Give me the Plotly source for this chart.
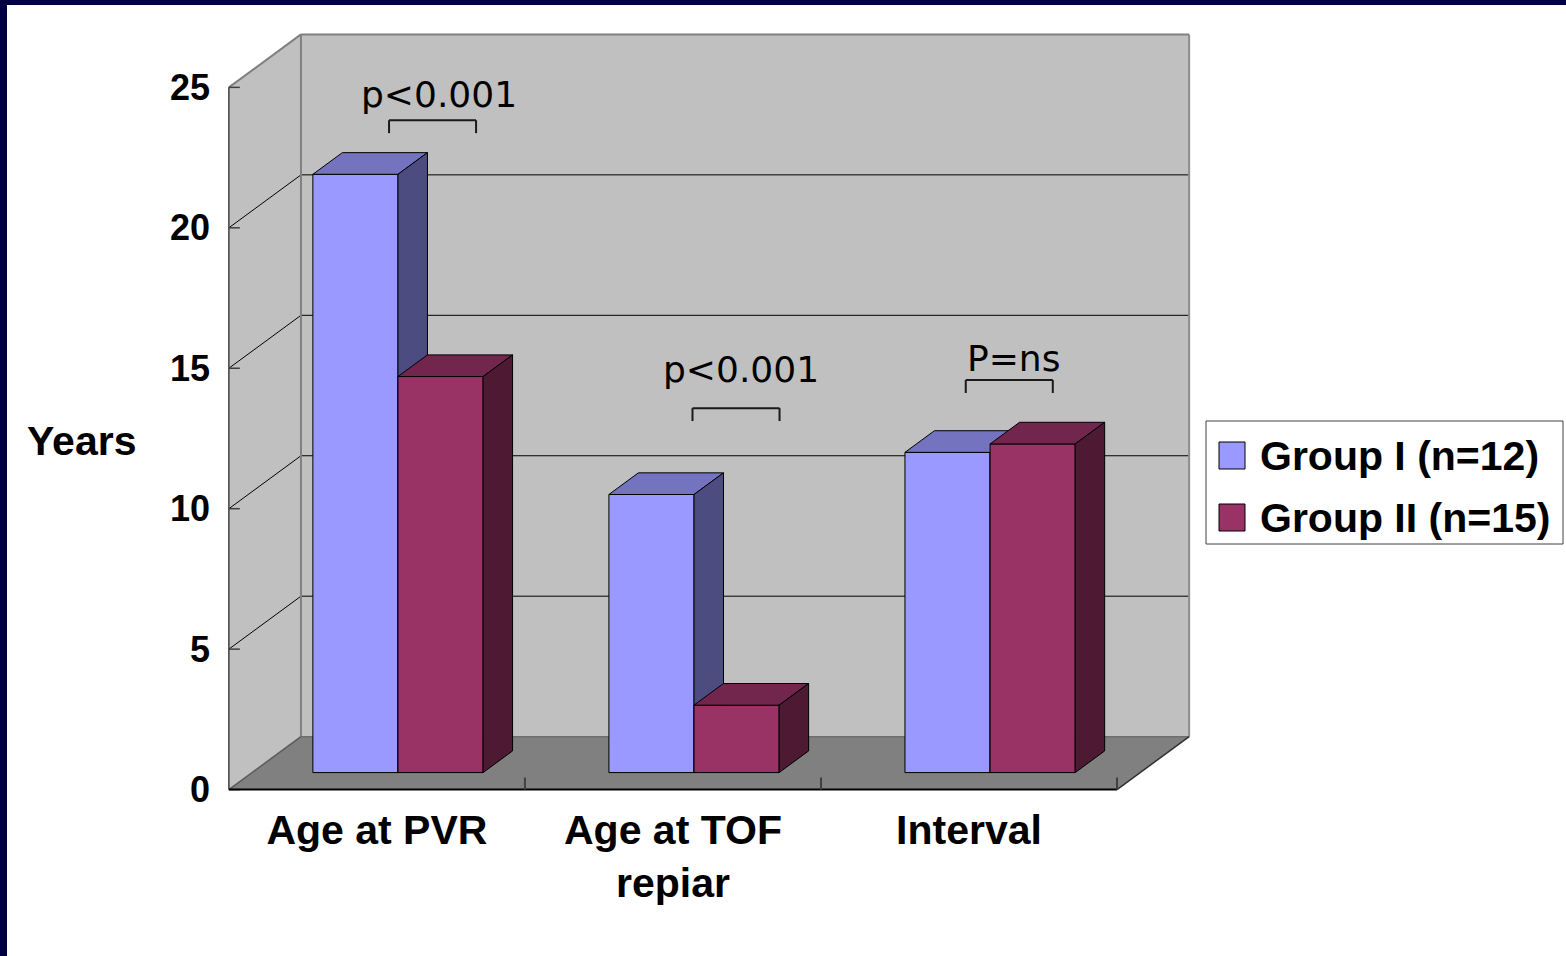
import plotly.graph_objects as go

# ---- data ----
categories = ["Age at PVR", "Age at TOF<br>repiar", "Interval"]
group_names = ["Group I (n=12)", "Group II (n=15)"]
group1_years = [21.3, 9.9, 11.4]
group2_years = [14.1, 2.4, 11.7]
y_ticks = [0, 5, 10, 15, 20, 25]
p_labels = ["p<0.001", "p<0.001", "P=ns"]

# ---- 3D box geometry (data units) ----
DX = 0.2435      # depth offset along category axis
DY = 1.885       # depth offset along value axis
D_FRONT = 0.321  # depth fraction of bar front faces
D_BACK = 0.73    # depth fraction of bar back faces
BAR_W = 0.2875   # bar width in category units
BAR_SHIFT = -0.007
Y_TOP = 25
PADX, PADY = 0.03, 0.3

W, H = 1566, 956
M_L, M_R, M_T, M_B = 220, 368, 26, 158
PLOT_W = W - M_L - M_R
PLOT_H = H - M_T - M_B


def px(xp):
    return (xp - M_L) / PLOT_W


def py(yp):
    return (H - M_B - yp) / PLOT_H


def proj(x, v, d):
    return x + d * DX, v + d * DY


group_colors = [
    {"front": "#9999FF", "top": "#7373BF", "side": "#4C4C80"},
    {"front": "#993366", "top": "#73264D", "side": "#4D1933"},
]

fig = go.Figure()


def add_face(pts, color):
    xs = [p[0] for p in pts] + [pts[0][0]]
    ys = [p[1] for p in pts] + [pts[0][1]]
    fig.add_trace(go.Scatter(
        x=xs, y=ys, mode="lines", fill="toself", fillcolor=color,
        line=dict(color="#000000", width=1), hoverinfo="skip", showlegend=False,
    ))


series = [group1_years, group2_years]
for i in range(len(categories)):
    for g, vals in enumerate(series):
        v = vals[i]
        x0 = i + BAR_SHIFT - BAR_W + g * BAR_W
        x1 = x0 + BAR_W
        c = group_colors[g]
        add_face([proj(x0, 0, D_FRONT), proj(x1, 0, D_FRONT),
                  proj(x1, v, D_FRONT), proj(x0, v, D_FRONT)], c["front"])
        add_face([proj(x0, v, D_FRONT), proj(x1, v, D_FRONT),
                  proj(x1, v, D_BACK), proj(x0, v, D_BACK)], c["top"])
        add_face([proj(x1, 0, D_FRONT), proj(x1, 0, D_BACK),
                  proj(x1, v, D_BACK), proj(x1, v, D_FRONT)], c["side"])

x_lo, x_hi = -0.5, len(categories) - 0.5
shapes = []


def poly(pts):
    return "M " + " L ".join(f"{x},{y}" for x, y in pts) + " Z"


def seg(a, b, color, width, layer="below"):
    shapes.append(dict(type="line", xref="x", yref="y", x0=a[0], y0=a[1],
                       x1=b[0], y1=b[1], line=dict(color=color, width=width),
                       layer=layer))


# walls and floor
shapes.append(dict(type="path", xref="x", yref="y", layer="below",
                   path=poly([proj(x_lo, 0, 0), proj(x_lo, 0, 1),
                              proj(x_lo, Y_TOP, 1), proj(x_lo, Y_TOP, 0)]),
                   fillcolor="#C0C0C0", line=dict(width=0)))
shapes.append(dict(type="path", xref="x", yref="y", layer="below",
                   path=poly([proj(x_lo, 0, 1), proj(x_hi, 0, 1),
                              proj(x_hi, Y_TOP, 1), proj(x_lo, Y_TOP, 1)]),
                   fillcolor="#C0C0C0", line=dict(width=0)))
shapes.append(dict(type="path", xref="x", yref="y", layer="below",
                   path=poly([proj(x_lo, 0, 0), proj(x_hi, 0, 0),
                              proj(x_hi, 0, 1), proj(x_lo, 0, 1)]),
                   fillcolor="#808080", line=dict(width=0)))

# gridlines on the side and back walls
for t in y_ticks[1:-1]:
    seg(proj(x_lo, t, 0), proj(x_lo, t, 1), "#000000", 1)
    seg(proj(x_lo, t, 1), proj(x_hi, t, 1), "#000000", 1)

# wall outlines
seg(proj(x_lo, Y_TOP, 0), proj(x_lo, Y_TOP, 1), "#808080", 2)
seg(proj(x_lo, Y_TOP, 1), proj(x_hi, Y_TOP, 1), "#808080", 2)
seg(proj(x_hi, Y_TOP, 1), proj(x_hi, 0, 1), "#8C8C8C", 2)
seg(proj(x_lo, Y_TOP, 1), proj(x_lo, 0, 1), "#808080", 2)
seg(proj(x_lo, 0, 1), proj(x_hi, 0, 1), "#6E6E6E", 1.5)
seg(proj(x_lo, 0, 0), proj(x_lo, 0, 1), "#5A5A5A", 1.5)
seg(proj(x_hi, 0, 0), proj(x_hi, 0, 1), "#303030", 1.5)

# value axis line, ticks and floor front edge
seg(proj(x_lo, 0, 0), proj(x_lo, Y_TOP, 0), "#404040", 1.5)
for t in y_ticks:
    seg((x_lo, t), (x_lo + 0.037, t), "#404040", 1.5)
seg(proj(x_lo, 0, 0), proj(x_hi, 0, 0), "#000000", 2)
for k in range(1, len(categories) + 1):
    seg((x_lo + k, 0), (x_lo + k, 0.43), "#404040", 2)

# significance brackets
brackets = [(0.041, 0.335, 23.83), (1.066, 1.360, 13.58), (1.989, 2.283, 14.58)]
label_pos = [(0.21, 24.75), (1.231, 14.94), (2.15, 15.36)]
LEG = 0.46
for (bx0, bx1, by) in brackets:
    seg((bx0, by - LEG), (bx0, by), "#1A1A1A", 2, "above")
    seg((bx0, by), (bx1, by), "#1A1A1A", 2, "above")
    seg((bx1, by), (bx1, by - LEG), "#1A1A1A", 2, "above")

annotations = []
for txt, (ax_, ay_) in zip(p_labels, label_pos):
    annotations.append(dict(x=ax_, y=ay_, xref="x", yref="y", text=txt,
                            showarrow=False, xanchor="center", yanchor="middle",
                            font=dict(family="DejaVu Sans", size=36, color="#000000")))

annotations.append(dict(x=px(81), y=py(441), xref="paper", yref="paper", text="Years",
                        showarrow=False, xanchor="center", yanchor="middle",
                        font=dict(family="Arial, Liberation Sans", size=41,
                                  color="#000000", weight="bold")))

# legend
shapes.append(dict(type="rect", xref="paper", yref="paper",
                   x0=px(1206), x1=px(1563), y0=py(544), y1=py(421),
                   fillcolor="#FFFFFF", line=dict(color="#404040", width=1)))
for g, name in enumerate(group_names):
    top = 442 + g * 62
    shapes.append(dict(type="rect", xref="paper", yref="paper",
                       x0=px(1219), x1=px(1245), y0=py(top + 27), y1=py(top),
                       fillcolor=group_colors[g]["front"],
                       line=dict(color="#000000", width=1)))
    annotations.append(dict(x=px(1258), y=py(top + 14), xref="paper", yref="paper",
                            text=name, showarrow=False, xanchor="left", yanchor="middle",
                            font=dict(family="Arial, Liberation Sans", size=41,
                                      color="#000000", weight="bold")))

# page frame strips
NAVY = "#000040"
shapes.append(dict(type="rect", xref="paper", yref="paper", x0=px(0), x1=px(W),
                   y0=py(5), y1=py(0), fillcolor=NAVY, line=dict(width=0)))
shapes.append(dict(type="rect", xref="paper", yref="paper", x0=px(0), x1=px(7),
                   y0=py(H), y1=py(0), fillcolor=NAVY, line=dict(width=0)))

fig.update_layout(
    width=W, height=H,
    margin=dict(l=M_L, r=M_R, t=M_T, b=M_B, autoexpand=False),
    paper_bgcolor="#FFFFFF", plot_bgcolor="rgba(0,0,0,0)",
    showlegend=False,
    shapes=shapes, annotations=annotations,
    xaxis=dict(range=[x_lo - PADX, x_hi + DX + PADX], tickvals=[0, 1, 2],
               ticktext=categories, showgrid=False, zeroline=False, showline=False,
               ticks="", ticklabelstandoff=4,
               tickfont=dict(family="Arial, Liberation Sans", size=41,
                             color="#000000", weight="bold")),
    yaxis=dict(range=[-PADY, Y_TOP + DY + PADY], tickvals=y_ticks,
               showgrid=False, zeroline=False, showline=False, ticks="",
               ticklabelstandoff=9,
               tickfont=dict(family="Arial, Liberation Sans", size=36,
                             color="#000000", weight="bold")),
)

fig.write_html("out.html")
